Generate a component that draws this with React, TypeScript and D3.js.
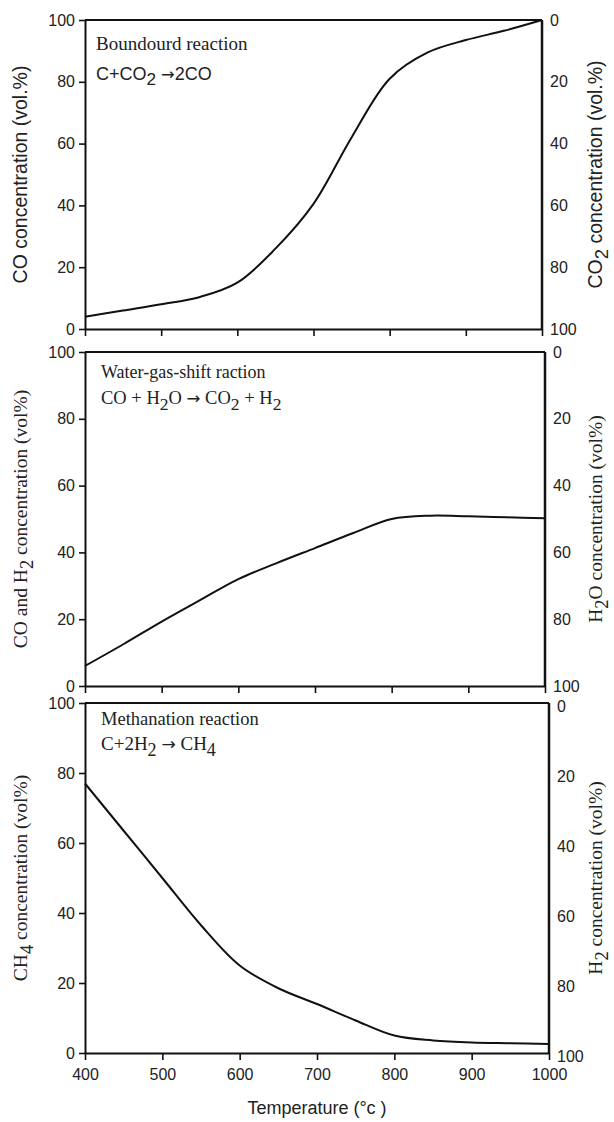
import React, { useRef, useEffect } from 'react';
import * as d3 from 'd3';

const width = 614;
const height = 1122;

// temperature grid (°C) and readings (vol.%)
const temperatures = [400, 450, 500, 550, 600, 650, 700, 750, 800, 850, 900, 950, 1000];
const coBoudouard = [4, 6, 8, 10.3, 15, 26, 40.5, 62, 81, 89.5, 93.5, 96.5, 100];
const coH2Shift = [6, 12.5, 19.3, 25.7, 32, 36.8, 41.3, 45.8, 50, 51, 50.8, 50.5, 50.2];
const ch4Methanation = [77, 63.5, 50, 36.5, 25, 18.5, 14, 9.3, 5, 3.6, 3, 2.8, 2.6];

const xTicks = [400, 500, 600, 700, 800, 900, 1000];
const yTicks = [0, 20, 40, 60, 80, 100];

// "_x" pieces are subscripts, "→" is drawn with a wider arrow glyph
const leftTitles = [
    ['CO concentration (vol.%)'],
    ['CO and H', '_2', ' concentration (vol%)'],
    ['CH', '_4', ' concentration (vol%)'],
];
const rightTitles = [
    ['CO', '_2', ' concentration (vol.%)'],
    ['H', '_2', 'O concentration (vol%)'],
    ['H', '_2', ' concentration (vol%)'],
];
const reactionNames = [['Boundourd reaction'], ['Water-gas-shift raction'], ['Methanation reaction']];
const reactionEquations = [
    ['C+CO', '_2', ' ', '\u2192', '2CO'],
    ['CO + H', '_2', 'O ', '\u2192', ' CO', '_2', ' + H', '_2'],
    ['C+2H', '_2', ' ', '\u2192', ' CH', '_4'],
];

const SANS = "'Liberation Sans', Arial, Helvetica, sans-serif";
const SERIF = "'Liberation Serif', 'Times New Roman', serif";

const left = 85;
const layout = [
    { top: 20, bottom: 329, right: 542, rShift: 0, titleFont: SANS, titleSize: 19.5, eqFont: SANS,
      noteX: 96, noteY: 50, noteSize: 19, eqY: 80, eqSize: 18 },
    { top: 352, bottom: 686, right: 545, rShift: 0, titleFont: SERIF, titleSize: 19.5, eqFont: SERIF,
      noteX: 101, noteY: 378, noteSize: 18, eqY: 404, eqSize: 18.5 },
    { top: 703, bottom: 1053, right: 549, rShift: 3, titleFont: SERIF, titleSize: 19.5, eqFont: SERIF,
      noteX: 101, noteY: 725, noteSize: 18.5, eqY: 750, eqSize: 19 },
];
const series = [coBoudouard, coH2Shift, ch4Methanation];

function richText(sel: any, parts: string[], size: number) {
    let sub = false;
    parts.forEach(p => {
        const shiftBack = sub ? -size * 0.3 : 0;
        if (p.startsWith('_')) {
            sel.append('tspan').attr('dy', size * 0.3).attr('font-size', size * 0.95).text(p.slice(1));
            sub = true;
            return;
        }
        const t = sel.append('tspan').attr('dy', shiftBack).text(p);
        if (p === '\u2192') t.attr('font-family', "'DejaVu Sans', sans-serif").attr('font-size', size * 0.9);
        sub = false;
    });
}

export default function App() {
    const ref = useRef<SVGSVGElement>(null);

    useEffect(() => {
        if (!ref.current) return;
        const svg = d3.select(ref.current);
        svg.selectAll('*').remove();

        layout.forEach((p, i) => {
            const x = d3.scaleLinear().domain([400, 1000]).range([left, p.right]);
            const y = d3.scaleLinear().domain([0, 100]).range([p.bottom, p.top]);
            const yR = d3.scaleLinear().domain([100, 0]).range([p.bottom + p.rShift, p.top + p.rShift]);
            const last = i === layout.length - 1;

            const g = svg.append('g');

            // frame top + right
            g.append('line').attr('x1', left).attr('x2', p.right).attr('y1', p.top).attr('y2', p.top)
                .attr('stroke', '#111').attr('stroke-width', 2);
            g.append('line').attr('x1', p.right).attr('x2', p.right).attr('y1', p.top).attr('y2', p.bottom)
                .attr('stroke', '#111').attr('stroke-width', 2.5);

            g.append('g')
                .attr('transform', `translate(${left},0)`)
                .call(d3.axisLeft(y).tickValues(yTicks).tickSize(6).tickPadding(4).tickSizeOuter(0))
                .call(a => a.select('.domain').attr('stroke-width', 2));

            g.append('g')
                .attr('transform', `translate(0,${p.bottom})`)
                .call(d3.axisBottom(x).tickValues(xTicks).tickSize(7).tickPadding(9).tickSizeOuter(0)
                    .tickFormat(last ? (d: any) => String(d) : () => ''))
                .call(a => a.select('.domain').attr('stroke-width', 2));

            g.append('g')
                .attr('transform', `translate(${p.right},0)`)
                .call(d3.axisRight(yR).tickValues(yTicks).tickSize(0).tickPadding(8))
                .call(a => a.select('.domain').remove());

            g.selectAll('.tick line').attr('stroke', '#111').attr('stroke-width', 1.6);
            g.selectAll('.tick text').attr('font-family', SANS).attr('font-size', 16).attr('fill', '#222');
            g.selectAll('.domain').attr('stroke', '#111');

            const line = d3.line<number>()
                .x((_, j) => x(temperatures[j]))
                .y(d => y(d))
                .curve(d3.curveCatmullRom.alpha(0.5));
            g.append('path')
                .datum(series[i])
                .attr('fill', 'none')
                .attr('stroke', '#111')
                .attr('stroke-width', 2)
                .attr('d', line);

            const cy = (p.top + p.bottom) / 2;
            richText(g.append('text')
                .attr('transform', `translate(27,${cy}) rotate(-90)`)
                .attr('text-anchor', 'middle')
                .attr('font-family', p.titleFont).attr('font-size', p.titleSize).attr('fill', '#222'),
                leftTitles[i], p.titleSize);
            richText(g.append('text')
                .attr('transform', `translate(${width - 12},${cy}) rotate(-90)`)
                .attr('text-anchor', 'middle')
                .attr('font-family', p.titleFont).attr('font-size', p.titleSize).attr('fill', '#222'),
                rightTitles[i], p.titleSize);

            richText(g.append('text')
                .attr('x', p.noteX).attr('y', p.noteY)
                .attr('font-family', SERIF).attr('font-size', p.noteSize).attr('fill', '#222'),
                reactionNames[i], p.noteSize);
            richText(g.append('text')
                .attr('x', p.noteX).attr('y', p.eqY)
                .attr('font-family', p.eqFont).attr('font-size', p.eqSize).attr('fill', '#222'),
                reactionEquations[i], p.eqSize);
        });

        svg.append('text')
            .attr('x', (left + 549) / 2).attr('y', 1114)
            .attr('text-anchor', 'middle')
            .attr('font-family', SANS).attr('font-size', 18).attr('fill', '#222')
            .text('Temperature (\u00B0c )');
    }, []);

    return (
        <svg ref={ref} width={width} height={height}
            style={{ position: 'absolute', left: 0, top: 0, background: '#fff' }} />
    );
}
